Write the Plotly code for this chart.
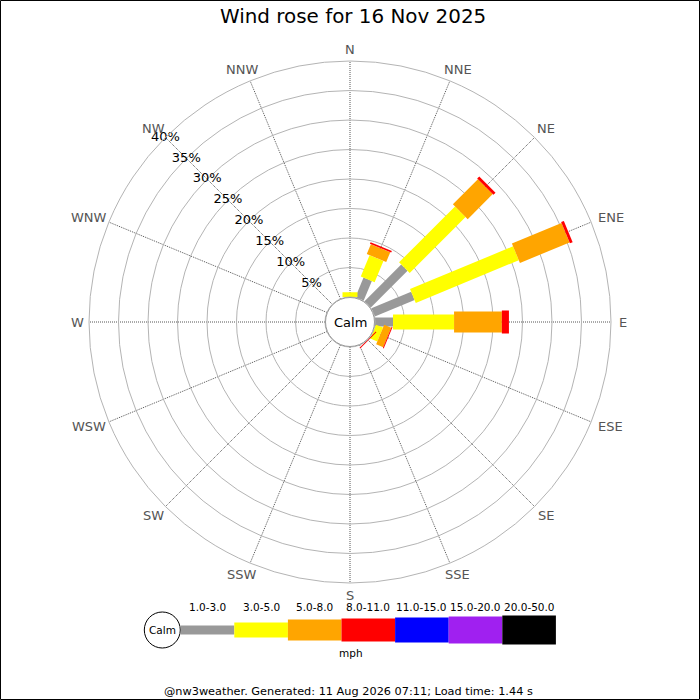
import math
import plotly.graph_objects as go

# compass points, clockwise from north
directions = ["N", "NNE", "NE", "ENE", "E", "ESE", "SE", "SSE",
              "S", "SSW", "SW", "WSW", "W", "WNW", "NW", "NNW"]

# percentage of the day per direction for each speed band (mph)
speed_bands = ["1.0-3.0", "3.0-5.0", "5.0-8.0", "8.0-11.0", "11.0-15.0", "15.0-20.0", "20.0-50.0"]
band_colors = ["#999999", "#ffff00", "#ffa500", "#ff0000", "#0000ff", "#a020f0", "#000000"]
band_pct = {
    "1.0-3.0":   [0, 3.6, 8.8, 7.3, 3.05, 0, 0, 0, 0, 0, 0, 0, 0, 0, 0, 0],
    "3.0-5.0":   [0.8, 3.9, 13.4, 18.9, 10.35, 1.3, 0, 0, 0, 0, 0, 0, 0, 0, 0, 0],
    "5.0-8.0":   [0, 1.8, 6.0, 9.1, 8.1, 1.3, 0, 0, 0, 0, 0, 0, 0, 0, 0, 0],
    "8.0-11.0":  [0, 0.3, 0.5, 0.5, 1.2, 0.15, 0.15, 0, 0, 0, 0, 0, 0, 0, 0, 0],
    "11.0-15.0": [0] * 16,
    "15.0-20.0": [0] * 16,
    "20.0-50.0": [0] * 16,
}
ring_vals = [5, 10, 15, 20, 25, 30, 35, 40]
ring_labels = ["5%", "10%", "15%", "20%", "25%", "30%", "35%", "40%"]

title_text = "Wind rose for 16 Nov 2025"
footer_text = "@nw3weather. Generated: 11 Aug 2026 07:11; Load time: 1.44 s"

W = H = 700
FONT = "DejaVu Sans"
bar_widths = [9, 15, 21, 23, 25, 27, 29]


def px(x):
    return x / W


def py(y):
    return 1 - y / H


def label(x, y, text, size, color="black"):
    return dict(x=px(x), y=py(y), xref="paper", yref="paper", text=text,
                showarrow=False, xanchor="center", yanchor="middle",
                font=dict(family=FONT, size=size, color=color))


fig = go.Figure()

# stacked segments, drawn as thick radial lines so they keep a constant width
base = [0.0] * 16
for band, col, lw in zip(speed_bands, band_colors, bar_widths):
    vals = band_pct[band]
    rr, tt = [], []
    for i, d in enumerate(directions):
        if vals[i] > 0:
            rr += [base[i], base[i] + vals[i], None]
            tt += [d, d, None]
        base[i] += vals[i]
    if rr:
        fig.add_trace(go.Scatterpolar(r=rr, theta=tt, mode="lines",
                                      line=dict(color=col, width=lw),
                                      hoverinfo="skip", showlegend=False))

# ring labels along the NW spoke
fig.add_trace(go.Scatterpolar(r=ring_vals, theta=["NW"] * len(ring_vals), mode="text",
                              text=ring_labels, textposition="middle center",
                              textfont=dict(family=FONT, size=13, color="black"),
                              hoverinfo="skip", showlegend=False))

cx, cy, R = 350, 322, 261
fig.update_layout(
    width=W, height=H,
    margin=dict(l=0, r=0, t=0, b=0),
    paper_bgcolor="white",
    showlegend=False,
    polar=dict(
        domain=dict(x=[px(cx - R), px(cx + R)], y=[py(cy + R), py(cy - R)]),
        bgcolor="white",
        hole=25 / R,
        radialaxis=dict(range=[0, 40], tickvals=ring_vals, showticklabels=False,
                        ticks="", showline=False, gridcolor="#b4b4b4", gridwidth=1),
        angularaxis=dict(type="category", categoryarray=directions, rotation=90,
                         direction="clockwise", ticks="", showline=True,
                         showticklabels=False,
                         linecolor="#b4b4b4", linewidth=1,
                         gridcolor="#555555", griddash="1px,1px", gridwidth=1),
    ),
)

shapes = []
annots = []

# compass names: the label box sits just outside the outer ring
for i, d in enumerate(directions):
    a = math.radians(i * 22.5)
    hw, hh = 4.7 * len(d), 5
    x = cx + 268 * math.sin(a) + hw * math.sin(a)
    y = cy - 268 * math.cos(a) - hh * math.cos(a)
    annots.append(label(x, y, d, 13, "#555555"))

# calm circle in the middle
shapes.append(dict(type="circle", xref="paper", yref="paper", layer="above",
                   x0=px(cx - 24.5), x1=px(cx + 24.5), y0=py(cy + 24.5), y1=py(cy - 24.5),
                   fillcolor="white", line=dict(color="#999999", width=1)))
annots.append(label(cx, cy, "Calm", 13))

# title and footer
annots.append(label(353, 17, title_text, 19.9))
annots.append(label(348, 691, footer_text, 11.3))

# speed legend
lx0, seg = 180.7, 53.6
shapes.append(dict(type="circle", xref="paper", yref="paper",
                   x0=px(162.3 - 18), x1=px(162.3 + 18), y0=py(630 + 18), y1=py(630 - 18),
                   fillcolor="white", line=dict(color="black", width=1)))
annots.append(label(162.3, 630, "Calm", 10.5))
for i, (band, col, lw) in enumerate(zip(speed_bands, band_colors, bar_widths)):
    x0 = lx0 + i * seg
    shapes.append(dict(type="rect", xref="paper", yref="paper",
                       x0=px(x0), x1=px(x0 + seg), y0=py(630 + lw / 2), y1=py(630 - lw / 2),
                       fillcolor=col, line=dict(width=0)))
    annots.append(label(x0 + seg / 2, 606.5, band, 10.5))
annots.append(label(351, 653, "mph", 10.5))

# frame around the image
shapes.append(dict(type="rect", xref="paper", yref="paper", x0=0.0007, x1=0.9993,
                   y0=0.0007, y1=0.9993, line=dict(color="black", width=1)))

fig.update_layout(shapes=shapes, annotations=annots)
fig.write_html("out.html", config={"displayModeBar": False},
               post_script="document.body.style.margin = '0';")
